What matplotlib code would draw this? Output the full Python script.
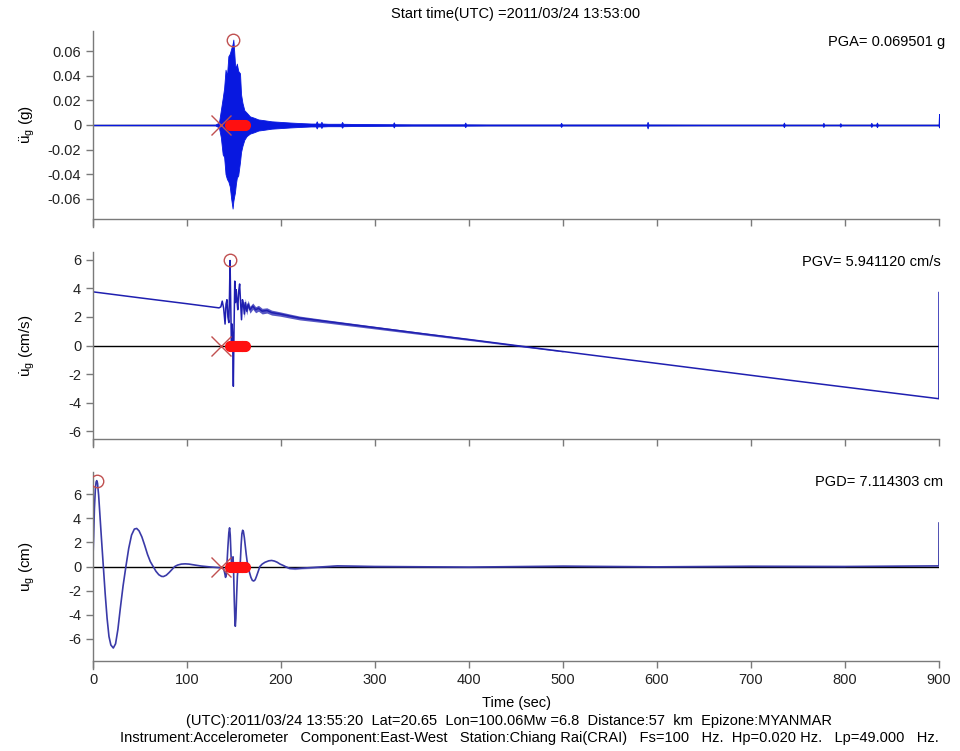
import numpy as np
import matplotlib
matplotlib.use("Agg")
import matplotlib.pyplot as plt
from matplotlib.ticker import FixedLocator, FixedFormatter

plt.rcParams['font.family'] = ['Liberation Sans', 'DejaVu Sans']
plt.rcParams['mathtext.fontset'] = 'custom'
plt.rcParams['mathtext.rm'] = 'Liberation Sans'
plt.rcParams['mathtext.it'] = 'Liberation Sans'

# ---------------- data ----------------
title_text = "Start time(UTC) =2011/03/24 13:53:00"
info_line1 = "(UTC):2011/03/24 13:55:20  Lat=20.65  Lon=100.06Mw =6.8  Distance:57  km  Epizone:MYANMAR"
info_line2 = "Instrument:Accelerometer   Component:East-West   Station:Chiang Rai(CRAI)   Fs=100   Hz.  Hp=0.020 Hz.   Lp=49.000   Hz."

pga_text = "PGA= 0.069501 g"
pgv_text = "PGV= 5.941120 cm/s"
pgd_text = "PGD= 7.114303 cm"

# acceleration envelope (g)
acc_t  = [0, 130, 134, 136, 138, 139.5, 141, 142.5, 144, 145.5, 147, 148.5, 149.3, 150.2, 151,
          152, 153, 154.5, 156.4, 157.5, 159, 161, 163.5, 167, 171, 176, 181, 190, 200, 210, 220,
          232, 237, 238, 239, 242, 243, 244, 250, 264, 265, 266, 280, 300, 319, 320, 321, 340, 395, 396, 397,
          420, 497, 498, 499, 560, 589, 590, 591, 650, 734, 735, 736, 760, 776, 777, 778, 794, 795,
          796, 815, 827, 828, 829, 833, 834, 835, 850, 897, 899.5, 900]
acc_up = [0.0002, 0.0003, 0.002, 0.012, 0.022, 0.030, 0.045, 0.040, 0.056, 0.058, 0.062, 0.066, 0.0695, 0.060, 0.050,
          0.046, 0.050, 0.044, 0.042, 0.025, 0.018, 0.012, 0.010, 0.007, 0.006, 0.0045, 0.004, 0.003, 0.0025, 0.002, 0.0016,
          0.0012, 0.0012, 0.0030, 0.0012, 0.0012, 0.0026, 0.0012, 0.0010, 0.0010, 0.0025, 0.0010, 0.0008, 0.0007, 0.0006, 0.0022, 0.0006, 0.0005, 0.0005, 0.0020, 0.0005,
          0.0004, 0.0004, 0.0018, 0.0004, 0.0004, 0.0004, 0.0026, 0.0004, 0.0003, 0.0003, 0.0020, 0.0003, 0.0003, 0.0003, 0.0018, 0.0003, 0.0003, 0.0015,
          0.0003, 0.0003, 0.0003, 0.0018, 0.0003, 0.0003, 0.0020, 0.0003, 0.0003, 0.0003, 0.0004, 0.0090]
acc_lo = [-0.0002, -0.0003, -0.002, -0.010, -0.024, -0.026, -0.040, -0.044, -0.046, -0.050, -0.060, -0.068, -0.062, -0.058, -0.055,
          -0.048, -0.043, -0.041, -0.030, -0.022, -0.017, -0.012, -0.009, -0.007, -0.006, -0.0045, -0.004, -0.003, -0.0025, -0.002, -0.0016,
          -0.0012, -0.0012, -0.0028, -0.0012, -0.0012, -0.0024, -0.0012, -0.0010, -0.0010, -0.0022, -0.0010, -0.0008, -0.0007, -0.0006, -0.0020, -0.0006, -0.0005, -0.0005, -0.0018, -0.0005,
          -0.0004, -0.0004, -0.0016, -0.0004, -0.0004, -0.0004, -0.0028, -0.0004, -0.0003, -0.0003, -0.0018, -0.0003, -0.0003, -0.0003, -0.0016, -0.0003, -0.0003, -0.0014,
          -0.0003, -0.0003, -0.0003, -0.0016, -0.0003, -0.0003, -0.0018, -0.0003, -0.0003, -0.0003, -0.0004, -0.0020]

# velocity (cm/s)
vel_t = [0, 50, 100, 134, 136, 137.5, 139, 140.5, 141.5, 142.5, 143.5, 144.5, 145.2, 145.8, 146.5, 147.3,
         148, 148.6, 149.3, 150, 150.8, 151.5, 152.3, 153, 154, 155, 156, 157, 158, 159, 160, 161, 162,
         163.5, 165, 167, 170, 173, 176, 180, 185, 190, 199, 210, 220, 250, 300, 350, 400, 450, 500,
         600, 750, 899.9, 900]
vel_v = [3.75, 3.33, 2.92, 2.63, 2.70, 3.10, 2.60, 1.50, 2.90, 3.20, 2.00, 1.60, 3.50, 5.94, 3.00, -0.30,
         1.50, 0.50, -2.85, 1.00, 4.50, 3.00, 3.90, 3.30, 2.50, 3.80, 4.30, 3.00, 1.80, 3.20, 2.90, 2.20, 3.00,
         2.40, 2.90, 2.50, 2.75, 2.50, 2.60, 2.40, 2.45, 2.30, 2.20, 2.05, 1.92, 1.67, 1.25, 0.83, 0.42, 0.00, -0.42,
         -1.25, -2.50, -3.72, 3.70]
# half-width of the noise seen around the velocity trace
velnoise_t = [160, 170, 200, 250, 350, 450, 520]
velnoise_w = [0.30, 0.22, 0.15, 0.11, 0.08, 0.05, 0.02]

# displacement (cm)
dis_t = [0, 0.7, 1.5, 2.5, 3.3, 4, 4.8, 6, 7.5, 9, 11, 13, 15, 17, 19, 21.6, 24, 26.5, 29, 32, 35, 38, 41,
         44, 46.5, 49, 52, 55, 58, 61, 64, 67, 70, 73, 75, 78, 81, 84, 87, 90, 94, 98, 102, 106, 110, 115,
         120, 125, 130, 135, 138, 139, 140, 141, 141.8, 142.5, 143.5, 144.5, 145.3, 146, 146.8, 147.5, 148.2,
         149, 149.6, 150.3, 151, 151.4, 152, 152.8, 153.6, 154.5, 155.3, 156, 156.8, 157.6, 158.4, 159.2,
         160, 161, 162, 163, 164, 165, 166.5, 168, 169.5, 171, 172.5, 174, 176, 177.5, 180, 183, 187, 190,
         193, 196, 199, 202, 205, 209, 215, 220, 240, 260, 300, 400, 500, 600, 700, 800, 899.9, 900]
dis_v = [0.8, 2.5, 4.8, 6.4, 7.0, 7.11, 6.9, 5.9, 4.1, 2.3, 0.0, -2.3, -4.3, -5.8, -6.5, -6.75, -6.4, -5.2, -3.5, -1.6, 0.0, 1.5, 2.6,
         3.1, 3.15, 2.95, 2.45, 1.75, 1.0, 0.4, 0.0, -0.4, -0.68, -0.82, -0.83, -0.72, -0.5, -0.25, 0.0, 0.12, 0.2, 0.22, 0.2, 0.15, 0.1, 0.04,
         0.0, -0.04, -0.07, -0.10, -0.15, -0.2, -0.5, -0.9, -0.7, 0.2, 1.6, 2.8, 3.2, 2.6, 1.0, 0.1, 0.3,
         0.8, -0.5, -2.8, -4.6, -4.95, -4.3, -2.4, -0.8, 0.0, -0.3, -0.3, 0.5, 1.8, 2.7, 3.0,
         2.9, 2.4, 1.7, 1.0, 0.4, 0.0, -0.5, -0.9, -1.15, -1.2, -1.1, -0.8, -0.35, 0.0, 0.2, 0.35, 0.47, 0.5,
         0.45, 0.35, 0.2, 0.1, -0.02, -0.15, -0.18, -0.15, -0.05, 0.05, 0.0, -0.05, 0.03, -0.03, 0.02, 0.0, 0.05, 3.60]
disnoise_t = [200, 300, 500, 899]
disnoise_w = [0.08, 0.07, 0.06, 0.06]

# event markers
pick_t = 136
dots_t = [146, 147, 148, 149, 150, 151, 152, 153, 154, 155, 156, 157, 158, 159, 160, 161, 162]
peak_acc = (149.3, 0.069501)
peak_vel = (145.8, 5.941120)
peak_dis = (4.0, 7.114303)

ylims = [0.0765, 6.535, 7.825]
acc_ticks = [-0.06, -0.04, -0.02, 0, 0.02, 0.04, 0.06]
acc_ticklabels = ["-0.06", "-0.04", "-0.02", "0", "0.02", "0.04", "0.06"]
vd_ticks = [-6, -4, -2, 0, 2, 4, 6]
vd_ticklabels = ["-6", "-4", "-2", "0", "2", "4", "6"]
x_ticks = [0, 100, 200, 300, 400, 500, 600, 700, 800, 900]
x_ticklabels = [str(v) for v in x_ticks]

# ---------------- figure ----------------
W, H = 960, 751
fig = plt.figure(figsize=(W / 100, H / 100), dpi=100)
EXT = 8  # left spine runs a few pixels below the x axis line

def px_axes(top, bottom, left=93, right=939):
    return fig.add_axes([left / W, 1 - (bottom + EXT) / H, (right - left) / W, (bottom + EXT - top) / H])

panels = [(31, 219), (252, 439), (472, 661)]
axes = [px_axes(t, b) for t, b in panels]
ax1, ax2, ax3 = axes

spine_col = '#7a7a7a'
trace_col = '#1f1fb0'
acc_col = '#0818e0'
mark_col = '#c05050'

for ax, lim, (t, b) in zip(axes, ylims, panels):
    ax.set_xlim(0, 900)
    per_px = 2 * lim / (b - t)
    ax.set_ylim(-lim - EXT * per_px, lim)
    for s in ['top', 'right']:
        ax.spines[s].set_visible(False)
    for s in ['left', 'bottom']:
        ax.spines[s].set_color(spine_col)
        ax.spines[s].set_linewidth(1.0)
    ax.spines['bottom'].set_position(('data', -lim))
    ax.tick_params(direction='out', length=5, width=1.0, color=spine_col, labelsize=10.5,
                   labelcolor='#222222')
    ax.xaxis.set_major_locator(FixedLocator(x_ticks))
    ax.axhline(0, color='black', lw=1.0, zorder=1)
    ax.patch.set_alpha(0)

ax1.yaxis.set_major_locator(FixedLocator(acc_ticks))
ax1.yaxis.set_major_formatter(FixedFormatter(acc_ticklabels))
for ax in [ax2, ax3]:
    ax.yaxis.set_major_locator(FixedLocator(vd_ticks))
    ax.yaxis.set_major_formatter(FixedFormatter(vd_ticklabels))
ax1.set_xticklabels([])
ax2.set_xticklabels([])
ax3.xaxis.set_major_formatter(FixedFormatter(x_ticklabels))

# acceleration
ax1.fill_between(acc_t, acc_lo, acc_up, color=acc_col, lw=0.6, edgecolor=acc_col, zorder=2)

# velocity
vt = np.array(vel_t)
vv = np.array(vel_v)
vsel = (vt >= velnoise_t[0]) & (vt <= velnoise_t[-1])
vw = np.interp(vt[vsel], velnoise_t, velnoise_w)
ax2.fill_between(vt[vsel], vv[vsel] - vw, vv[vsel] + vw, color=trace_col, alpha=0.75, lw=0, zorder=2)
ax2.plot(vt, vv, color=trace_col, lw=1.1, zorder=2)

# displacement
dt_ = np.array(dis_t)
dv_ = np.array(dis_v)
dsel = (dt_ >= disnoise_t[0]) & (dt_ <= disnoise_t[-1])
dw = np.interp(dt_[dsel], disnoise_t, disnoise_w)
ax3.fill_between(dt_[dsel], dv_[dsel] - dw, dv_[dsel] + dw, color=trace_col, alpha=0.35, lw=0, zorder=2)
ax3.plot(dt_, dv_, color='#3a3aa8', lw=1.2, zorder=2)

for ax, pk in zip(axes, [peak_acc, peak_vel, peak_dis]):
    ax.plot([pick_t], [0], marker='x', ms=14, mew=1.0, color=mark_col, zorder=4, ls='none')
    ax.plot(dots_t, [0] * len(dots_t), marker='o', ms=7, color='#ff1010', mec='#ff1010',
            ls='none', zorder=4)
    ax.plot([pk[0]], [pk[1]], marker='o', ms=9, mfc='none', mec=mark_col, mew=1.0, zorder=5,
            ls='none')

ax1.set_ylabel(r'$\ddot{u}_g$ (g)', fontsize=11)
ax2.set_ylabel(r'$\dot{u}_g$ (cm/s)', fontsize=11)
ax3.set_ylabel(r'$u_g$ (cm)', fontsize=11)
for ax in axes:
    ax.yaxis.set_label_coords(-0.066, 0.5 + EXT / 2 / 190)

fig.text(945 / W, 1 - 42 / H, pga_text, ha='right', va='center', fontsize=10.5)
fig.text(941 / W, 1 - 262 / H, pgv_text, ha='right', va='center', fontsize=10.5)
fig.text(943 / W, 1 - 482 / H, pgd_text, ha='right', va='center', fontsize=10.5)

fig.text(516 / W, 1 - 14 / H, title_text, ha='center', va='center', fontsize=10.5)
fig.text(516 / W, 1 - 703 / H, "Time (sec)", ha='center', va='center', fontsize=10.5)
fig.text(186 / W, 1 - 721 / H, info_line1, ha='left', va='center', fontsize=10.5)
fig.text(120 / W, 1 - 738 / H, info_line2, ha='left', va='center', fontsize=10.5)

fig.savefig('out.png', dpi=100, facecolor='white')
